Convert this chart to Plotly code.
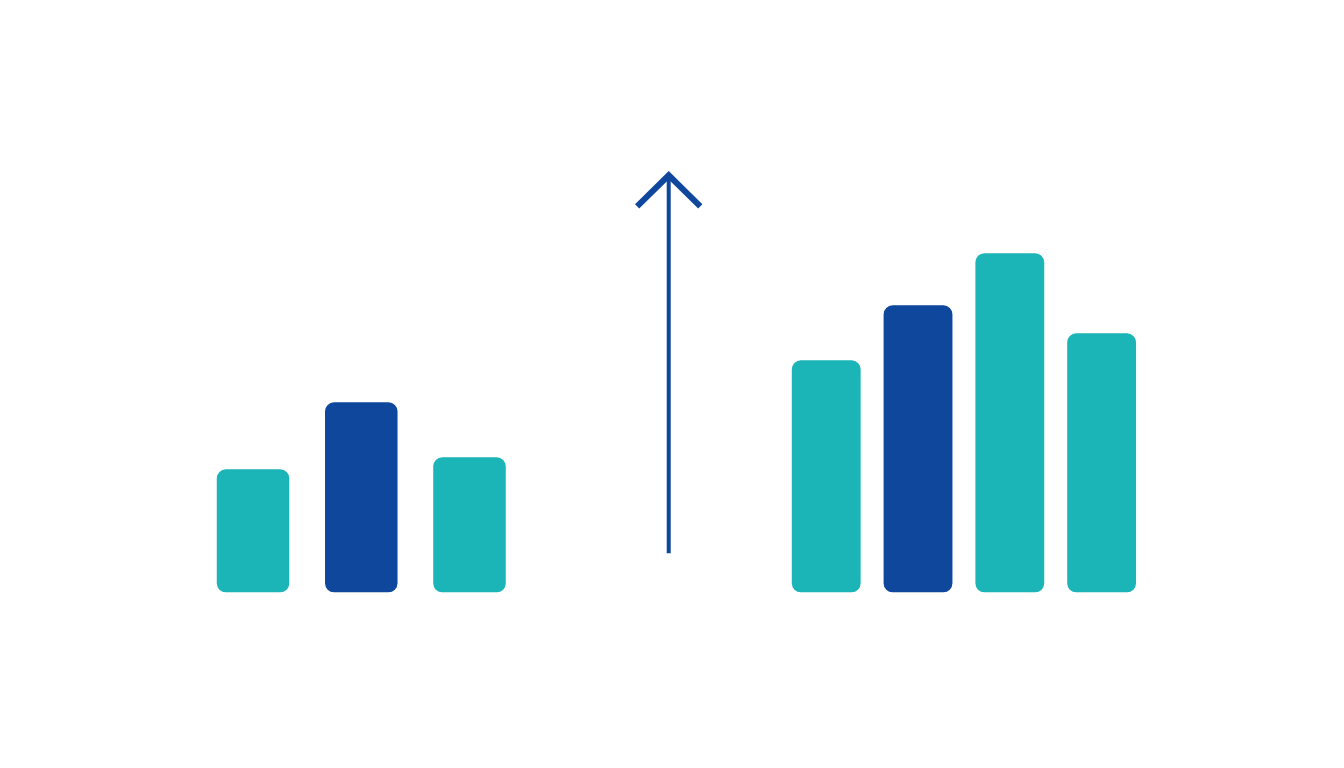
import plotly.graph_objects as go

# ---------------- data ----------------
left_cats = ["A1", "A2", "A3"]
left_vals = [1.23, 1.90, 1.35]
left_cols = ["#1bb5b7", "#0e479b", "#1bb5b7"]

right_cats = ["B1", "B2", "B3", "B4"]
right_vals = [2.32, 2.87, 3.39, 2.59]
right_cols = ["#1bb5b7", "#0e479b", "#1bb5b7", "#1bb5b7"]

# arrow (x in paper fraction, y in value units)
arrow_x = 0.4916
arrow_bottom = 0.39
arrow_top = 4.17
arrow_head_y = 3.86
arrow_head_dx = 0.0235

BLUE = "#0e479b"
RADIUS = 9

# page body has an 8px margin, shift everything back by that much
SHIFT_X = 8 / 1344.0

fig = go.Figure()


def add_group(cats, vals, cols, xaxis, width):
    # explicit base -> plotly rounds both ends of the bar
    fig.add_trace(go.Bar(x=cats, y=vals, base=[0] * len(vals), width=width,
                         marker=dict(color=cols, cornerradius=RADIUS, line_width=0),
                         xaxis=xaxis, yaxis="y", hoverinfo="skip", showlegend=False))


add_group(left_cats, left_vals, left_cols, "x", 0.67)
add_group(right_cats, right_vals, right_cols, "x2", 0.75)

# the arrow
fig.add_shape(type="line", xref="paper", yref="y",
              x0=arrow_x, x1=arrow_x, y0=arrow_bottom, y1=arrow_top - 0.03,
              line=dict(color=BLUE, width=4))
fig.add_shape(type="path", xref="paper", yref="y",
              path="M %f,%f L %f,%f L %f,%f" % (arrow_x - arrow_head_dx, arrow_head_y, arrow_x, arrow_top,
                                                arrow_x + arrow_head_dx, arrow_head_y),
              line=dict(color=BLUE, width=6))

hidden = dict(visible=False, showgrid=False, zeroline=False, fixedrange=True)
fig.update_layout(
    width=1344, height=768,
    margin=dict(l=0, r=0, t=0, b=0),
    paper_bgcolor="white", plot_bgcolor="white",
    barmode="overlay",
    xaxis=dict(domain=[0.148 - SHIFT_X, 0.3896 - SHIFT_X], **hidden),
    xaxis2=dict(domain=[0.5806 - SHIFT_X, 0.8538 - SHIFT_X], anchor="y", **hidden),
    yaxis=dict(range=[-1.837, 5.843], **hidden),
)

fig.write_html("out.html")
